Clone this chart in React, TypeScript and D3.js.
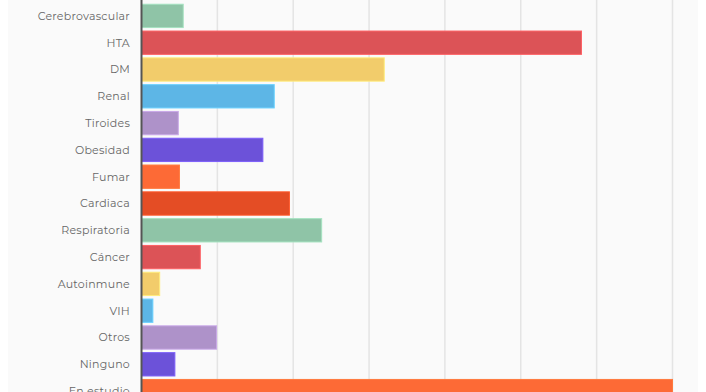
import React, { useEffect, useRef } from 'react';
import * as d3 from 'd3';

const categories = [
  'Cerebrovascular', 'HTA', 'DM', 'Renal', 'Tiroides', 'Obesidad', 'Fumar', 'Cardiaca',
  'Respiratoria', 'Cáncer', 'Autoinmune', 'VIH', 'Otros', 'Ninguno', 'En estudio',
];
const values = [11, 116, 64, 35, 9.7, 32, 10, 39, 47.5, 15.5, 4.8, 3, 19.8, 8.8, 140];
const xTicks = [0, 20, 40, 60, 80, 100, 120, 140];
const palette = ['#8fc4a7', '#dc5357', '#f2cc6b', '#5db6e6', '#ae92c9', '#6c52d9', '#fd6a36', '#e44d25'];

export default function App() {
  const svgRef = useRef<SVGSVGElement>(null);
  const width = 706;
  const height = 392;

  useEffect(() => {
    const svg = d3.select(svgRef.current);
    svg.selectAll('*').remove();

    // chart panel background
    svg.append('rect')
      .attr('x', 8).attr('y', 0)
      .attr('width', 690).attr('height', height)
      .attr('fill', '#fafafa');

    const x = d3.scaleLinear().domain([0, 140]).range([141.5, 672.5]);
    const y = d3.scaleBand()
      .domain(categories)
      .range([2.5, 404.5])
      .paddingInner(0.13)
      .paddingOuter(0.065);

    // grid
    svg.append('g')
      .selectAll('line')
      .data(xTicks.slice(1))
      .join('line')
      .attr('x1', d => x(d)).attr('x2', d => x(d))
      .attr('y1', 0).attr('y2', height)
      .attr('stroke', '#e4e4e4')
      .attr('stroke-width', 1.5);

    // bars
    svg.append('g')
      .selectAll('rect')
      .data(values)
      .join('rect')
      .attr('x', x(0))
      .attr('y', (d, i) => y(categories[i]) as number)
      .attr('width', d => x(d) - x(0))
      .attr('height', y.bandwidth())
      .attr('fill', (d, i) => palette[i % palette.length])
      .attr('stroke', (d, i) => d3.color(palette[i % palette.length])!.brighter(0.4).toString())
      .attr('stroke-width', 1);

    // y axis line
    svg.append('line')
      .attr('x1', x(0)).attr('x2', x(0))
      .attr('y1', 0).attr('y2', height)
      .attr('stroke', '#555')
      .attr('stroke-width', 2);

    // category labels
    svg.append('g')
      .selectAll('text')
      .data(categories)
      .join('text')
      .attr('x', 130)
      .attr('y', d => (y(d) as number) + y.bandwidth() / 2)
      .attr('dy', '0.35em')
      .attr('text-anchor', 'end')
      .style('font-family', 'Montserrat, "DejaVu Sans", sans-serif')
      .style('font-size', '11px')
      .style('letter-spacing', '0.25px')
      .style('fill', '#666')
      .text(d => d);
  }, []);

  return (
    <div style={{ position: 'absolute', left: 0, top: 0, width, height, overflow: 'hidden', background: '#fff' }}>
      <svg ref={svgRef} width={width} height={height} style={{ display: 'block' }}></svg>
    </div>
  );
}
